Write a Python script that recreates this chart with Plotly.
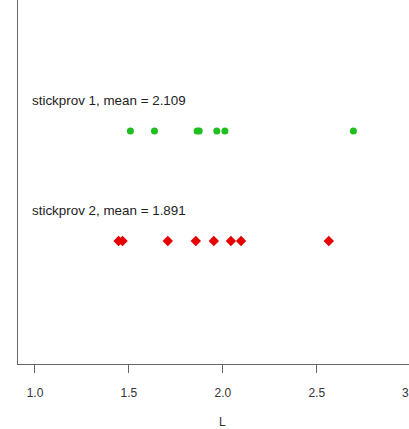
import plotly.graph_objects as go

# Data
sample1_values = [1.508, 1.636, 1.863, 1.874, 1.968, 2.011, 2.695]
sample2_values = [1.445, 1.466, 1.707, 1.856, 1.952, 2.043, 2.097, 2.564]
sample_names = ["stickprov 1", "stickprov 2"]
sample_means = [2.109, 1.891]
sample_rows = [2, 1]
tick_vals = [1.0, 1.5, 2.0, 2.5]
tick_text = ["1.0", "1.5", "2.0", "2.5"]
edge_tick_text = "3.0"
x_title = "L"

FONT = "Liberation Sans, Arial, sans-serif"

fig = go.Figure()
fig.add_trace(go.Scatter(
    x=sample1_values, y=[sample_rows[0]] * len(sample1_values),
    mode="markers", marker=dict(symbol="circle", size=7, color="#1fbf1f"),
    showlegend=False, hoverinfo="x"))
fig.add_trace(go.Scatter(
    x=sample2_values, y=[sample_rows[1]] * len(sample2_values),
    mode="markers", marker=dict(symbol="diamond", size=8, color="#e60000"),
    showlegend=False, hoverinfo="x"))

for name, mean, row in zip(sample_names, sample_means, sample_rows):
    fig.add_annotation(
        x=0.975, y=row + 0.28, xref="x", yref="y",
        text=f"{name}, mean = {mean:.3f}", showarrow=False,
        xanchor="left", yanchor="middle",
        font=dict(family=FONT, size=13.4, color="#222"))

# tick label at the right edge (partly outside the page, as in the reference)
fig.add_annotation(
    x=1.0043, y=0, xref="paper", yref="paper", yshift=-29,
    text=edge_tick_text, showarrow=False, xanchor="center", yanchor="middle",
    font=dict(family=FONT, size=12, color="#333"))

# axis title placed below tick labels
fig.add_annotation(
    x=2.0, y=0, xref="x", yref="paper", yshift=-58,
    text=x_title, showarrow=False, xanchor="center", yanchor="middle",
    font=dict(family=FONT, size=12, color="#333"))

fig.update_layout(
    width=409, height=429,
    margin=dict(l=18, r=0, t=0, b=65),
    paper_bgcolor="white", plot_bgcolor="white",
    font=dict(family=FONT, size=12, color="#333"),
    xaxis=dict(
        range=[0.9096, 2.991], tickvals=tick_vals, ticktext=tick_text,
        showgrid=False, zeroline=False, automargin=False,
        showline=True, linecolor="#666", linewidth=1,
        ticks="outside", ticklen=8, tickcolor="#666", tickwidth=1,
        ticklabelstandoff=10,
    ),
    yaxis=dict(
        range=[-0.118, 3.19], showgrid=False, zeroline=False, automargin=False,
        showticklabels=False, ticks="",
        showline=True, linecolor="#666", linewidth=1,
    ),
)

fig.write_html(
    "out.html",
    config={"displayModeBar": False},
    post_script="document.body.style.margin='0';document.body.style.overflow='hidden';",
)
